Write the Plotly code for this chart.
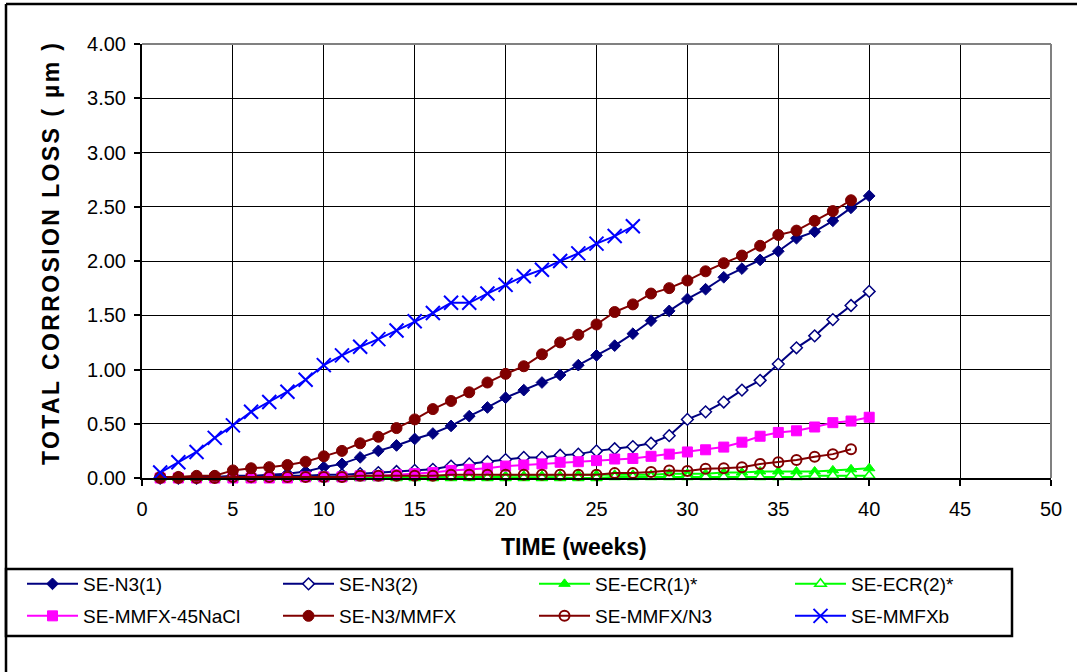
import plotly.graph_objects as go

# ---------------- data ----------------
weeks = list(range(1, 41))

se_n3_1 = [0.00, 0.00, 0.01, 0.01, 0.02, 0.02, 0.03, 0.04, 0.06, 0.10,
           0.13, 0.19, 0.25, 0.30, 0.36, 0.41, 0.48, 0.57, 0.65, 0.74,
           0.81, 0.88, 0.95, 1.04, 1.13, 1.22, 1.33, 1.45, 1.54, 1.65,
           1.74, 1.85, 1.93, 2.01, 2.09, 2.21, 2.27, 2.37, 2.49, 2.60]

se_n3_2 = [0.00, 0.00, 0.00, 0.01, 0.01, 0.01, 0.02, 0.02, 0.02, 0.03,
           0.03, 0.04, 0.05, 0.06, 0.07, 0.08, 0.11, 0.13, 0.15, 0.17,
           0.19, 0.19, 0.21, 0.22, 0.25, 0.27, 0.29, 0.32, 0.39, 0.54,
           0.61, 0.70, 0.81, 0.90, 1.05, 1.20, 1.31, 1.46, 1.59, 1.72]

se_ecr_1 = [0.00, 0.00, 0.00, 0.00, 0.00, 0.00, 0.00, 0.00, 0.00, 0.00,
            0.01, 0.01, 0.01, 0.01, 0.01, 0.01, 0.01, 0.01, 0.01, 0.02,
            0.02, 0.02, 0.02, 0.03, 0.03, 0.03, 0.03, 0.03, 0.04, 0.04,
            0.04, 0.05, 0.05, 0.06, 0.06, 0.06, 0.06, 0.07, 0.08, 0.09]

se_ecr_2 = [0.00, 0.00, 0.00, 0.00, 0.00, 0.00, 0.00, 0.00, 0.00, 0.00,
            0.00, 0.00, 0.00, 0.00, 0.00, 0.00, 0.00, 0.00, 0.00, 0.00,
            0.00, 0.00, 0.00, 0.00, 0.00, 0.01, 0.01, 0.01, 0.01, 0.01,
            0.01, 0.01, 0.01, 0.01, 0.01, 0.01, 0.02, 0.02, 0.02, 0.02]

se_mmfx_45nacl = [0.00, 0.00, 0.00, 0.00, 0.00, 0.00, 0.00, 0.00, 0.01, 0.01,
                  0.01, 0.02, 0.02, 0.03, 0.04, 0.05, 0.07, 0.08, 0.09, 0.11,
                  0.12, 0.13, 0.145, 0.15, 0.16, 0.175, 0.18, 0.20, 0.22, 0.24,
                  0.26, 0.285, 0.33, 0.385, 0.42, 0.435, 0.47, 0.51, 0.525, 0.56]

weeks_39 = list(range(1, 40))
se_n3_mmfx = [0.01, 0.01, 0.02, 0.02, 0.07, 0.09, 0.10, 0.12, 0.15, 0.20,
              0.25, 0.32, 0.38, 0.46, 0.54, 0.635, 0.71, 0.79, 0.88, 0.96,
              1.03, 1.14, 1.25, 1.32, 1.415, 1.53, 1.60, 1.70, 1.75, 1.82,
              1.905, 1.98, 2.05, 2.14, 2.24, 2.28, 2.37, 2.46, 2.56]

se_mmfx_n3 = [0.00, 0.00, 0.00, 0.00, 0.01, 0.01, 0.01, 0.01, 0.01, 0.01,
              0.01, 0.02, 0.02, 0.02, 0.02, 0.02, 0.03, 0.03, 0.03, 0.03,
              0.03, 0.03, 0.03, 0.03, 0.03, 0.045, 0.045, 0.055, 0.07, 0.065,
              0.085, 0.09, 0.10, 0.13, 0.145, 0.165, 0.195, 0.22, 0.265]

weeks_27 = list(range(1, 28))
se_mmfxb = [0.05, 0.145, 0.24, 0.37, 0.485, 0.61, 0.70, 0.795, 0.905, 1.04,
            1.13, 1.21, 1.28, 1.36, 1.445, 1.52, 1.615, 1.615, 1.70, 1.78,
            1.86, 1.92, 2.00, 2.07, 2.16, 2.23, 2.32]

x_ticks = [0, 5, 10, 15, 20, 25, 30, 35, 40, 45, 50]
y_ticks = [0.0, 0.5, 1.0, 1.5, 2.0, 2.5, 3.0, 3.5, 4.0]

# ---------------- layout geometry ----------------
W, H = 1077, 672
L, R, T, B = 142, 26, 44, 194
PW = W - L - R
PH = H - T - B
FONT = "Liberation Sans, Arial, sans-serif"
NAVY, GREEN, MAGENTA, DRED, BLUE = "#000080", "#00FF00", "#FF00FF", "#800000", "#0000FF"


def px(x):
    return (x - L) / PW


def py(y):
    return (H - B - y) / PH


fig = go.Figure()


def add(name, x, y, color, symbol, size, fill, lw_marker, legend):
    fig.add_trace(go.Scatter(
        x=x, y=y, name=name, mode="lines+markers",
        line=dict(color=color, width=2),
        marker=dict(symbol=symbol, size=size, color=fill,
                    line=dict(color=color, width=lw_marker)),
        legend=legend, cliponaxis=False,
    ))


add("SE-N3(1)", weeks, se_n3_1, NAVY, "diamond", 9, NAVY, 1, "legend")
add("SE-N3(2)", weeks, se_n3_2, NAVY, "diamond", 9, "white", 1.5, "legend")
add("SE-ECR(1)*", weeks, se_ecr_1, GREEN, "triangle-up", 10, GREEN, 1, "legend")
add("SE-ECR(2)*", weeks, se_ecr_2, GREEN, "triangle-up", 10, "white", 1.5, "legend")
add("SE-MMFX-45NaCl", weeks, se_mmfx_45nacl, MAGENTA, "square", 10, MAGENTA, 1, "legend2")
add("SE-N3/MMFX", weeks_39, se_n3_mmfx, DRED, "circle", 11, DRED, 1, "legend2")
add("SE-MMFX/N3", weeks_39, se_mmfx_n3, DRED, "circle-open", 10, DRED, 2, "legend2")
add("SE-MMFXb", weeks_27, se_mmfxb, BLUE, "x-thin-open", 14, BLUE, 2, "legend2")

axis_common = dict(
    showgrid=True, gridcolor="black", gridwidth=1,
    showline=True, linecolor="black", linewidth=2,
    ticks="outside", ticklen=6, tickwidth=1.5, tickcolor="black",
    tickfont=dict(family=FONT, size=20, color="black"),
    zeroline=False, fixedrange=True,
)

fig.update_xaxes(range=[0, 50], tickvals=x_ticks, ticklabelstandoff=6, **axis_common)
fig.update_yaxes(range=[0, 4], tickvals=y_ticks, tickformat=".2f",
                 ticklabelstandoff=4, **axis_common)

legend_common = dict(
    orientation="h", xanchor="left", yanchor="middle",
    entrywidth=190, entrywidthmode="pixels", itemwidth=51,
    bgcolor="rgba(0,0,0,0)", borderwidth=0,
    font=dict(family=FONT, size=19, color="black"),
    traceorder="normal",
)

fig.update_layout(
    width=W, height=H,
    margin=dict(l=L, r=R, t=T, b=B, pad=0),
    paper_bgcolor="white", plot_bgcolor="white",
    showlegend=True,
    legend=dict(x=px(22), y=py(584), **legend_common),
    legend2=dict(x=px(22), y=py(616), **legend_common),
    annotations=[
        dict(text="<b>TIME (weeks)</b>", xref="paper", yref="paper",
             x=px(574), y=py(547), xanchor="center", yanchor="middle",
             showarrow=False, font=dict(family=FONT, size=23, color="black")),
        dict(text='<span style="letter-spacing:2.4px"><b>TOTAL CORROSION LOSS ( µm )</b></span>',
             xref="paper", yref="paper",
             x=px(51), y=py(253), xanchor="center", yanchor="middle", textangle=-90,
             showarrow=False, font=dict(family=FONT, size=23, color="black")),
    ],
    shapes=[
        # plot-area border (grey) top and right
        dict(type="line", xref="paper", yref="paper", x0=0, x1=1, y0=1, y1=1,
             line=dict(color="#808080", width=2), layer="above"),
        dict(type="line", xref="paper", yref="paper", x0=1, x1=1, y0=0, y1=1,
             line=dict(color="#808080", width=2), layer="above"),
        # outer chart frame
        dict(type="line", xref="paper", yref="paper", x0=px(6), x1=px(1100),
             y0=py(4), y1=py(4), line=dict(color="black", width=2.5)),
        dict(type="line", xref="paper", yref="paper", x0=px(6), x1=px(6),
             y0=py(4), y1=py(700), line=dict(color="black", width=2.5)),
        # legend box
        dict(type="rect", xref="paper", yref="paper", x0=px(6), x1=px(1012),
             y0=py(569), y1=py(636), line=dict(color="black", width=2.5)),
    ],
)

fig.write_html("out.html")
